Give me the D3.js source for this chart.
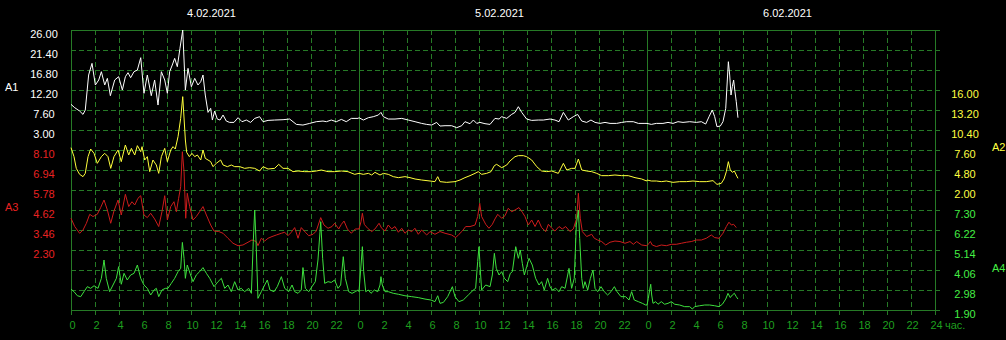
<!DOCTYPE html>
<html>
<head>
<meta charset="utf-8">
<script src="https://cdn.jsdelivr.net/npm/d3@7"></script>
<style>
  html, body { margin: 0; padding: 0; background: #000; }
  svg { display: block; }
  text { font-family: "Liberation Sans", Arial, sans-serif; font-size: 11px; }
</style>
</head>
<body>
<script>
"use strict";

// day captions over the plot, one per 24 h
const dates = ["4.02.2021", "5.02.2021", "6.02.2021"];

// tick labels of the four value axes
const a1Ticks = [26.00, 21.40, 16.80, 12.20, 7.60, 3.00];
const a3Ticks = [8.10, 6.94, 5.78, 4.62, 3.46, 2.30];
const a2Ticks = [16.00, 13.20, 10.40, 7.60, 4.80, 2.00];
const a4Ticks = [7.30, 6.22, 5.14, 4.06, 2.98, 1.90];

// hour ticks along the bottom, 3 days
const hourTicks = d3.range(0, 73, 2);

// series: [hours since 4.02 00:00, value]
const a1Data = [
    [0, 8.9], [0.31, 8.13], [0.72, 7.36], [1.0, 6.59], [1.19, 7.59], [1.47, 15.65], [1.75, 18.33], [2.03, 13.35],
    [2.31, 14.5], [2.53, 16.41], [2.81, 13.35], [3.03, 14.88], [3.28, 10.89], [3.64, 14.5], [3.97, 15.26], [4.28, 12.19],
    [4.53, 15.26], [4.75, 16.18], [4.97, 15.03], [5.25, 16.41], [5.53, 16.8], [5.81, 19.63], [6.08, 11.43], [6.36, 15.65],
    [6.69, 10.89], [6.97, 14.5], [7.25, 8.74], [7.53, 16.41], [7.81, 14.5], [8.03, 11.43], [8.22, 16.41], [8.44, 17.95],
    [8.64, 19.48], [8.86, 17.56], [9.08, 21.78], [9.31, 26.0], [9.53, 12.19], [9.75, 17.18], [10.03, 12.96], [10.31, 14.88],
    [10.58, 13.35], [10.81, 14.11], [11.0, 15.65], [11.19, 11.04], [11.42, 7.05], [11.64, 7.98], [11.78, 5.29], [11.97, 7.36],
    [12.19, 5.52], [12.42, 5.29], [12.67, 6.44], [12.94, 5.06], [13.22, 4.75], [13.58, 4.75], [13.92, 5.83], [14.25, 4.91],
    [14.61, 5.29], [14.97, 4.75], [15.31, 5.67], [15.72, 6.06], [16.0, 4.91], [16.42, 5.21], [16.97, 5.29], [17.67, 5.37],
    [18.22, 5.52], [18.78, 4.29], [19.33, 4.14], [19.89, 4.52], [20.44, 4.91], [21.0, 5.06], [21.28, 4.91], [21.69, 5.29],
    [22.11, 4.91], [22.53, 5.44], [22.94, 4.91], [23.36, 5.67], [23.92, 5.67],
    [24.0, 5.83], [24.36, 5.29], [24.78, 5.83], [25.19, 6.06], [25.61, 6.44], [25.83, 7.05], [26.03, 6.06], [26.44, 5.52],
    [27.0, 5.52], [27.56, 5.67], [28.11, 5.29], [28.67, 4.91], [29.22, 4.52], [29.64, 4.29], [30.06, 4.14], [30.47, 4.75],
    [30.75, 3.91], [31.17, 3.99], [31.72, 3.99], [32.14, 3.53], [32.56, 3.99], [32.83, 4.91], [33.25, 4.45], [33.53, 5.29],
    [33.81, 4.52], [34.08, 4.75], [34.5, 4.45], [34.92, 4.29], [35.33, 5.67], [35.67, 5.52], [35.89, 6.06], [36.31, 5.67],
    [36.72, 6.59], [37.0, 7.05], [37.28, 8.36], [37.56, 7.05], [37.97, 5.52], [38.39, 5.21], [38.94, 5.29], [39.36, 5.29],
    [39.92, 5.52], [40.33, 5.29], [40.67, 4.91], [41.03, 7.05], [41.44, 5.29], [41.86, 6.06], [42.22, 6.59], [42.56, 5.06],
    [42.97, 4.75], [43.33, 5.29], [43.67, 4.75], [44.08, 4.52], [44.5, 4.75], [44.92, 4.52], [45.47, 4.52], [45.89, 4.75],
    [46.31, 4.91], [46.86, 4.91], [47.28, 4.52], [47.83, 4.52],
    [48.0, 4.52], [48.36, 4.29], [48.78, 4.52], [49.33, 4.52], [49.75, 4.75], [50.17, 4.52], [50.58, 4.91], [51.0, 4.75],
    [51.56, 4.91], [52.11, 4.75], [52.53, 4.91], [52.89, 4.37], [53.17, 6.06], [53.44, 7.59], [53.64, 6.06], [53.83, 3.76],
    [54.11, 3.91], [54.33, 4.91], [54.56, 7.98], [54.67, 13.35], [54.78, 18.71], [54.89, 15.65], [55.0, 11.04], [55.11, 12.96],
    [55.22, 14.5], [55.33, 11.81], [55.44, 9.51], [55.58, 5.83]
];

const a2Data = [
    [0, 7.93], [0.25, 6.67], [0.44, 5.03], [0.72, 4.19], [1.0, 3.87], [1.19, 4.33], [1.42, 6.67], [1.64, 7.74],
    [1.92, 7.13], [2.19, 5.73], [2.53, 6.67], [2.81, 7.13], [3.08, 6.67], [3.31, 5.03], [3.58, 6.67], [3.92, 7.6],
    [4.19, 5.97], [4.53, 8.3], [4.81, 6.9], [5.03, 7.83], [5.31, 6.9], [5.53, 8.21], [5.81, 7.37], [5.92, 8.07],
    [6.14, 6.2], [6.36, 6.67], [6.56, 4.57], [6.83, 6.2], [7.11, 5.5], [7.31, 4.33], [7.53, 6.67], [7.81, 7.83],
    [8.03, 5.97], [8.31, 7.6], [8.5, 8.07], [8.69, 7.74], [8.92, 9.47], [9.14, 12.03], [9.31, 15.07], [9.53, 9.0],
    [9.64, 7.27], [9.86, 6.67], [10.08, 7.13], [10.31, 6.67], [10.53, 6.9], [10.81, 6.2], [11.0, 7.6], [11.19, 6.43],
    [11.42, 6.2], [11.64, 5.97], [11.83, 5.27], [12.11, 5.73], [12.47, 6.2], [12.67, 5.5], [13.03, 5.27], [13.36, 5.5],
    [13.64, 5.27], [14.06, 5.27], [14.47, 5.03], [14.89, 5.13], [15.31, 5.03], [15.72, 4.66], [16.0, 5.27], [16.42, 4.94],
    [16.97, 5.03], [17.31, 5.59], [17.67, 5.03], [18.08, 5.03], [18.5, 4.57], [18.92, 4.66], [19.47, 4.57], [20.03, 4.57],
    [20.44, 4.66], [20.86, 4.8], [21.42, 4.57], [21.97, 4.57], [22.53, 4.66], [23.08, 4.57], [23.64, 4.19],
    [24.0, 4.33], [24.36, 4.19], [24.78, 4.33], [25.06, 4.1], [25.33, 4.47], [25.75, 4.1], [26.03, 4.33], [26.44, 4.19],
    [26.86, 3.87], [27.28, 3.73], [27.83, 3.87], [28.25, 3.73], [28.67, 3.54], [29.22, 3.4], [29.92, 3.26], [30.33, 3.17],
    [30.56, 3.87], [30.75, 3.17], [31.31, 3.07], [32.0, 3.17], [32.42, 3.4], [32.83, 3.73], [33.25, 4.01], [33.67, 4.33],
    [33.94, 4.57], [34.22, 4.19], [34.64, 4.33], [35.0, 4.57], [35.28, 5.41], [35.47, 5.59], [35.89, 5.13], [36.31, 5.5],
    [36.58, 6.06], [37.0, 6.67], [37.28, 6.81], [37.69, 6.81], [37.97, 6.67], [38.39, 6.2], [38.81, 5.27], [39.22, 4.66],
    [39.64, 4.57], [40.06, 4.66], [40.61, 4.33], [41.03, 5.73], [41.31, 4.8], [41.72, 5.03], [42.0, 5.03], [42.28, 6.34],
    [42.56, 4.8], [42.97, 4.66], [43.39, 4.57], [43.81, 4.33], [44.22, 4.01], [44.78, 4.01], [45.33, 4.1], [45.89, 4.01],
    [46.44, 4.01], [47.0, 3.73], [47.56, 3.54], [47.97, 3.26],
    [48.0, 3.4], [48.36, 3.26], [48.78, 3.26], [49.19, 3.17], [49.61, 3.26], [50.17, 3.07], [50.72, 3.17], [51.28, 3.17],
    [51.83, 3.26], [52.39, 3.17], [52.94, 3.17], [53.5, 3.31], [53.83, 2.79], [54.19, 2.93], [54.42, 3.54], [54.61, 4.57],
    [54.78, 5.97], [54.94, 4.8], [55.11, 4.47], [55.28, 4.66], [55.44, 4.1], [55.58, 3.63]
];

const a3Data = [
    [0, 4.14], [0.31, 3.66], [0.72, 3.27], [1.0, 3.46], [1.28, 3.85], [1.56, 4.37], [1.83, 4.24], [2.19, 4.37],
    [2.47, 4.76], [2.75, 5.2], [3.03, 4.62], [3.31, 3.85], [3.58, 4.56], [3.92, 5.2], [4.19, 4.33], [4.53, 5.53],
    [4.81, 4.82], [5.08, 5.1], [5.31, 4.91], [5.58, 5.3], [5.81, 5.45], [6.08, 4.33], [6.36, 4.18], [6.64, 4.43],
    [6.97, 4.1], [7.31, 3.66], [7.58, 4.52], [7.81, 5.45], [8.03, 4.04], [8.31, 4.82], [8.58, 5.1], [8.78, 4.52],
    [8.97, 5.3], [9.14, 5.97], [9.28, 8.0], [9.42, 6.84], [9.56, 4.14], [9.69, 5.59], [9.89, 4.82], [10.17, 4.04],
    [10.44, 4.24], [10.72, 4.52], [11.0, 4.82], [11.28, 4.33], [11.64, 3.75], [11.92, 3.4], [12.31, 3.37], [12.67, 3.27],
    [13.08, 2.98], [13.5, 2.69], [13.92, 2.55], [14.33, 2.59], [14.75, 2.75], [15.08, 2.88], [15.44, 2.79], [15.58, 2.55],
    [15.86, 2.98], [16.14, 2.82], [16.42, 2.98], [16.75, 3.08], [17.11, 3.17], [17.53, 3.27], [17.81, 3.33], [18.08, 3.13],
    [18.36, 3.33], [18.64, 3.6], [18.92, 2.98], [19.19, 3.6], [19.53, 3.33], [19.81, 3.13], [20.17, 3.21], [20.44, 3.4],
    [20.81, 4.18], [21.08, 3.75], [21.42, 3.56], [21.75, 3.66], [21.97, 3.85], [22.31, 3.52], [22.53, 3.79], [22.75, 3.98],
    [23.03, 3.52], [23.36, 3.27], [23.69, 3.52],
    [24.0, 3.52], [24.17, 3.94], [24.28, 4.43], [24.44, 3.79], [24.72, 3.56], [25.06, 3.37], [25.33, 3.52], [25.67, 3.85],
    [25.89, 3.56], [26.17, 3.4], [26.44, 3.75], [26.72, 3.52], [27.0, 3.66], [27.28, 3.33], [27.56, 3.56], [27.83, 3.27],
    [28.11, 3.46], [28.39, 3.37], [28.67, 3.56], [28.94, 3.21], [29.22, 3.46], [29.64, 3.17], [29.92, 3.37], [30.33, 3.21],
    [30.75, 3.37], [31.17, 3.27], [31.72, 3.17], [32.06, 3.02], [32.33, 3.21], [32.61, 3.4], [32.89, 3.66], [33.25, 3.66],
    [33.67, 3.75], [33.89, 4.24], [34.06, 5.01], [34.22, 4.24], [34.56, 3.79], [34.83, 3.56], [35.11, 3.79], [35.33, 4.1],
    [35.56, 4.37], [35.89, 4.14], [36.17, 4.29], [36.44, 4.72], [36.72, 4.52], [37.0, 4.62], [37.33, 4.76], [37.61, 4.49],
    [37.83, 4.24], [38.11, 3.75], [38.39, 4.04], [38.67, 3.66], [38.94, 4.04], [39.22, 3.6], [39.56, 3.37], [39.78, 3.79],
    [40.06, 3.56], [40.33, 3.4], [40.67, 3.66], [40.94, 3.52], [41.22, 3.66], [41.58, 3.37], [41.86, 3.52], [42.14, 4.14],
    [42.28, 5.59], [42.44, 4.14], [42.61, 3.37], [42.97, 3.08], [43.39, 3.21], [43.61, 2.98], [43.89, 2.88], [44.22, 2.79],
    [44.56, 2.59], [44.92, 2.75], [45.33, 2.82], [45.75, 2.79], [46.17, 2.69], [46.58, 2.79], [46.86, 2.63], [47.14, 2.79],
    [47.56, 2.59], [47.97, 2.55],
    [48.0, 2.55], [48.17, 2.69], [48.28, 2.79], [48.44, 2.59], [48.78, 2.5], [49.19, 2.59], [49.61, 2.55], [50.03, 2.63],
    [50.44, 2.63], [50.86, 2.69], [51.28, 2.75], [51.69, 2.79], [52.11, 2.88], [52.53, 2.88], [52.94, 2.98], [53.36, 3.17],
    [53.64, 3.02], [54.0, 2.98], [54.33, 3.27], [54.61, 3.66], [54.83, 3.91], [55.03, 3.75], [55.22, 3.79], [55.44, 3.6]
];

const a4Data = [
    [0, 3.03], [0.25, 2.89], [0.53, 2.67], [0.81, 2.62], [1.08, 2.89], [1.36, 3.16], [1.64, 3.07], [1.92, 3.21],
    [2.25, 3.07], [2.53, 3.61], [2.75, 4.6], [2.94, 3.61], [3.22, 2.89], [3.5, 3.25], [3.78, 3.61], [3.97, 4.24],
    [4.19, 3.29], [4.42, 3.88], [4.69, 3.52], [4.97, 3.79], [5.25, 3.88], [5.53, 4.33], [5.81, 3.61], [6.08, 3.25],
    [6.36, 3.07], [6.64, 2.71], [6.92, 2.98], [7.11, 3.07], [7.31, 2.62], [7.58, 2.98], [7.86, 3.07], [8.08, 3.07],
    [8.36, 3.34], [8.64, 3.61], [8.92, 3.97], [9.14, 4.15], [9.28, 5.55], [9.42, 4.69], [9.53, 3.61], [9.69, 4.33],
    [9.92, 3.88], [10.17, 3.43], [10.44, 3.79], [10.72, 3.97], [11.0, 4.19], [11.28, 3.88], [11.56, 3.61], [11.92, 3.16],
    [12.25, 3.43], [12.53, 3.61], [12.81, 3.07], [13.08, 3.25], [13.36, 2.89], [13.64, 3.43], [13.92, 2.98], [14.19, 3.07],
    [14.47, 2.89], [14.81, 3.07], [15.03, 2.8], [15.19, 5.59], [15.31, 7.3], [15.42, 5.59], [15.58, 2.53], [15.86, 2.89],
    [16.14, 3.25], [16.36, 3.52], [16.58, 2.98], [16.92, 2.89], [17.19, 3.16], [17.53, 3.7], [17.81, 3.07], [18.14, 2.89],
    [18.42, 3.25], [18.64, 2.89], [18.92, 2.8], [19.19, 2.98], [19.33, 4.19], [19.53, 3.07], [19.81, 2.89], [20.08, 3.16],
    [20.36, 3.43], [20.58, 4.6], [20.81, 6.67], [20.97, 4.69], [21.14, 3.34], [21.42, 3.43], [21.69, 3.39], [21.97, 3.52],
    [22.25, 3.07], [22.47, 3.25], [22.69, 4.78], [22.86, 3.61], [23.14, 2.89], [23.42, 2.8], [23.69, 2.89], [23.92, 2.98],
    [24.0, 2.89], [24.17, 4.33], [24.28, 5.32], [24.39, 3.97], [24.56, 2.89], [24.78, 2.98], [25.0, 2.8], [25.28, 2.98],
    [25.56, 2.89], [25.75, 3.25], [25.83, 3.7], [25.94, 3.25], [26.17, 2.89], [26.44, 2.89], [26.86, 2.8], [27.28, 2.75],
    [27.83, 2.67], [28.39, 2.62], [28.94, 2.57], [29.5, 2.49], [30.0, 2.44], [30.33, 2.35], [30.56, 2.67], [30.75, 2.26],
    [31.03, 2.31], [31.39, 2.62], [31.78, 3.16], [32.0, 2.62], [32.33, 2.35], [32.69, 2.44], [33.11, 2.71], [33.53, 2.98],
    [33.72, 3.07], [33.89, 4.51], [34.0, 5.32], [34.11, 4.06], [34.22, 2.98], [34.56, 3.25], [34.92, 3.16], [35.11, 3.79],
    [35.28, 4.96], [35.44, 4.15], [35.67, 3.79], [35.89, 3.97], [36.11, 3.61], [36.39, 3.43], [36.61, 3.88], [36.78, 3.97],
    [37.06, 5.32], [37.28, 4.69], [37.44, 5.14], [37.61, 4.42], [37.78, 3.79], [37.97, 4.24], [38.17, 4.69], [38.44, 4.33],
    [38.72, 3.61], [39.0, 3.25], [39.22, 3.43], [39.44, 2.98], [39.72, 3.61], [39.92, 3.16], [40.11, 2.98], [40.39, 3.07],
    [40.67, 2.89], [40.89, 3.16], [41.17, 3.07], [41.5, 4.15], [41.72, 3.07], [41.94, 3.61], [42.11, 6.49], [42.28, 7.3],
    [42.39, 5.77], [42.56, 3.61], [42.69, 3.07], [42.83, 3.43], [43.06, 2.98], [43.28, 3.61], [43.5, 4.06], [43.67, 3.07],
    [43.89, 2.89], [44.17, 3.16], [44.44, 2.89], [44.72, 2.71], [45.0, 2.89], [45.28, 3.16], [45.5, 2.89], [45.83, 2.62],
    [46.22, 2.62], [46.5, 2.44], [46.72, 2.89], [46.94, 2.44], [47.28, 2.35], [47.61, 2.26], [47.89, 2.17],
    [48.0, 2.17], [48.11, 2.53], [48.22, 2.98], [48.31, 3.29], [48.39, 2.71], [48.5, 2.26], [48.72, 2.35], [48.92, 2.21],
    [49.19, 2.35], [49.47, 2.21], [49.75, 2.26], [50.03, 2.35], [50.31, 2.21], [50.72, 2.17], [51.14, 2.08], [51.56, 2.08],
    [51.78, 1.95], [51.97, 2.08], [52.39, 2.13], [52.81, 2.17], [53.22, 2.17], [53.64, 2.13], [54.0, 2.08], [54.28, 2.21],
    [54.56, 2.49], [54.75, 2.8], [54.94, 2.57], [55.11, 2.71], [55.28, 2.8], [55.44, 2.62], [55.58, 2.49]
];

const width = 1006;
const height = 340;
const plot = { left: 71, right: 935, top: 30, bottom: 310 };

const gridColor = "#267a26";
const labelGreen = "#1f9f1f";

const svg = d3.select("body").append("svg")
    .attr("width", width)
    .attr("height", height)
    .style("background", "#000");

// time axis: 72 hours over the whole plot width
const x = d3.scaleLinear().domain([0, 72]).range([plot.left, plot.right]);

// each value axis owns a band of the 14 grid rows
const yA1 = d3.scaleLinear().domain([3.00, 26.00]).range([130, 30]);
const yA3 = d3.scaleLinear().domain([2.30, 8.10]).range([250, 150]);
const yA2 = d3.scaleLinear().domain([2.00, 16.00]).range([190, 90]);
const yA4 = d3.scaleLinear().domain([1.90, 7.30]).range([310, 210]);
const yRow = d3.scaleLinear().domain([0, 14]).range([plot.top, plot.bottom]);

// dashed grid
const grid = svg.append("g")
    .attr("stroke", gridColor)
    .attr("stroke-dasharray", "5,3")
    .attr("shape-rendering", "crispEdges");

grid.selectAll(".hline").data(d3.range(0, 15)).enter().append("line")
    .attr("x1", plot.left).attr("x2", plot.right + 6)
    .attr("y1", d => yRow(d) + 0.5).attr("y2", d => yRow(d) + 0.5);

grid.selectAll(".vline").data(hourTicks).enter().append("line")
    .attr("x1", d => Math.round(x(d)) + 0.5).attr("x2", d => Math.round(x(d)) + 0.5)
    .attr("y1", plot.top).attr("y2", plot.bottom + 6);

// solid frame and day separators
svg.append("rect")
    .attr("x", plot.left + 0.5).attr("y", plot.top + 0.5)
    .attr("width", plot.right - plot.left).attr("height", plot.bottom - plot.top)
    .attr("fill", "none").attr("stroke", gridColor)
    .attr("shape-rendering", "crispEdges");

svg.selectAll(".day").data([24, 48]).enter().append("line")
    .attr("x1", d => x(d) + 0.5).attr("x2", d => x(d) + 0.5)
    .attr("y1", plot.top).attr("y2", plot.bottom)
    .attr("stroke", gridColor)
    .attr("shape-rendering", "crispEdges");

// date captions
svg.selectAll(".date").data(dates).enter().append("text")
    .attr("x", (d, i) => x(i * 24 + 12) - 3.5)
    .attr("y", 16.5)
    .attr("text-anchor", "middle")
    .attr("fill", "#ffffff")
    .text(d => d);

// value axes; labels sit a little under their grid line
function valueAxis(axis, scale, ticks, posX, color) {
    const g = svg.append("g")
        .attr("transform", `translate(${posX},0)`)
        .call(axis(scale).tickValues(ticks).tickFormat(d3.format(".2f")).tickSize(0));
    g.select(".domain").remove();
    g.attr("font-family", null).attr("font-size", null).attr("text-anchor", "middle");
    g.selectAll("text")
        .attr("x", 0).attr("dy", null).attr("y", 7.5)
        .attr("fill", color);
    return g;
}

valueAxis(d3.axisLeft, yA1, a1Ticks, 44, "#ffffff");
valueAxis(d3.axisLeft, yA3, a3Ticks, 44, "#e82222");
valueAxis(d3.axisRight, yA2, a2Ticks, 965, "#ffff40");
valueAxis(d3.axisRight, yA4, a4Ticks, 965, "#44ee44");

// axis names
const names = [
    { text: "A1", x: 5, y: 91, color: "#ffffff" },
    { text: "A3", x: 5, y: 211, color: "#e82222" },
    { text: "A2", x: 992, y: 151, color: "#ffff40" },
    { text: "A4", x: 992, y: 271.5, color: "#44ee44" }
];
svg.selectAll(".name").data(names).enter().append("text")
    .attr("x", d => d.x).attr("y", d => d.y)
    .attr("fill", d => d.color)
    .text(d => d.text);

// hour axis
const hourAxis = svg.append("g")
    .attr("transform", "translate(1,329)")
    .call(d3.axisBottom(x).tickValues(hourTicks).tickSize(0)
        .tickFormat(h => h === 72 ? "24" : String(h % 24)));
hourAxis.select(".domain").remove();
hourAxis.attr("font-family", null).attr("font-size", null);
hourAxis.selectAll("text").attr("y", 0).attr("dy", null).attr("fill", labelGreen);

svg.append("text")
    .attr("x", 945).attr("y", 329)
    .attr("fill", labelGreen)
    .text("час.");

// series lines
const series = [
    { data: a1Data, y: yA1, color: "#ffffff" },
    { data: a2Data, y: yA2, color: "#ffff3c" },
    { data: a3Data, y: yA3, color: "#cc1c1c" },
    { data: a4Data, y: yA4, color: "#3ee03e" }
];

series.forEach(s => {
    const line = d3.line()
        .x(d => x(d[0]))
        .y(d => s.y(d[1]));
    svg.append("path")
        .datum(s.data)
        .attr("fill", "none")
        .attr("stroke", s.color)
        .attr("stroke-width", 1)
        .attr("stroke-linejoin", "miter")
        .attr("d", line);
});
</script>
</body>
</html>
